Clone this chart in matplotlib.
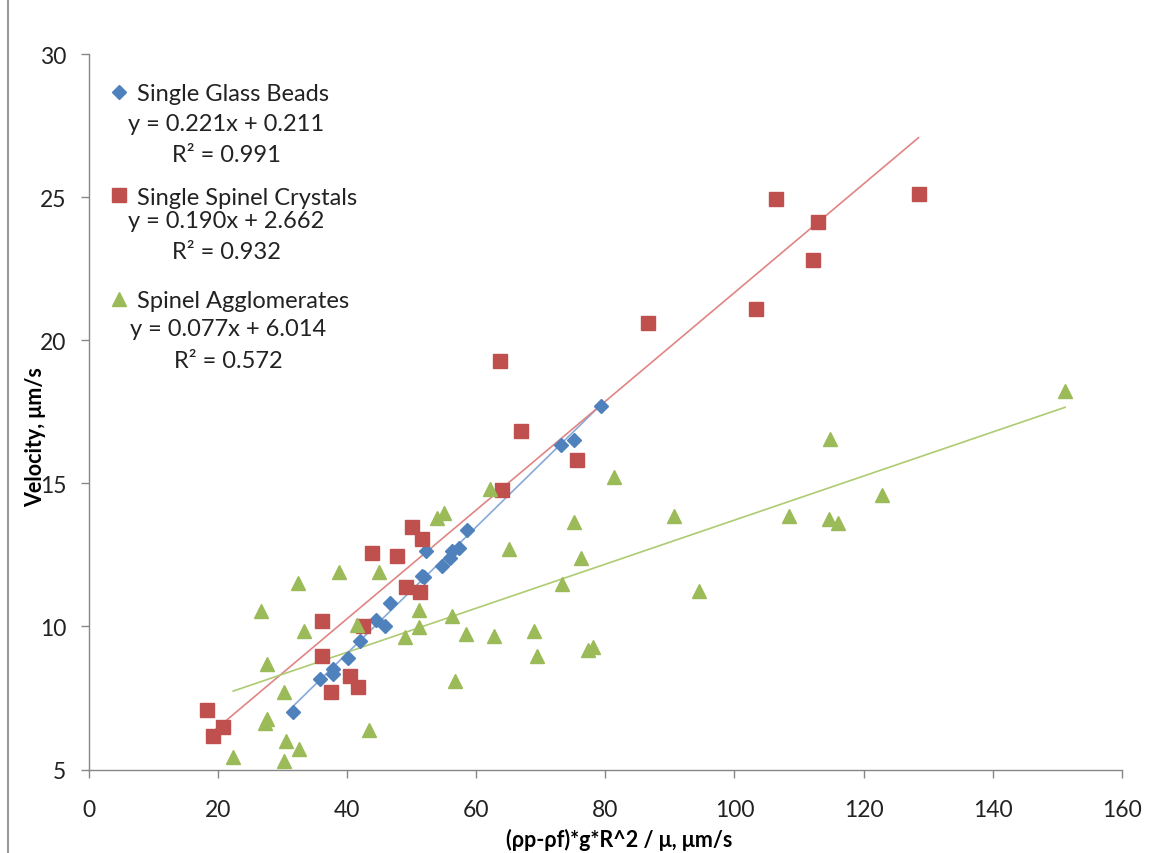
import numpy as np
import matplotlib
matplotlib.use('Agg')
import matplotlib.pyplot as plt
from matplotlib.lines import Line2D

plt.rcParams['font.family'] = ['Lato', 'DejaVu Sans']

# Single Glass Beads
beads_x = [31.7, 35.8, 37.9, 37.9, 40.2, 42.0, 44.5, 45.9, 46.7, 51.6,
           51.9, 52.2, 54.7, 55.9, 56.2, 57.4, 58.6, 73.1, 75.2, 79.4]
beads_y = [7.02, 8.16, 8.34, 8.51, 8.89, 9.48, 10.23, 10.02, 10.82, 11.77,
           11.72, 12.62, 12.10, 12.39, 12.65, 12.73, 13.37, 16.34, 16.51, 17.71]

# Single Spinel Crystals
cryst_x = [18.4, 20.8, 19.2, 36.2, 36.2, 37.6, 40.5, 41.7, 42.5, 43.9,
           47.7, 50.1, 51.7, 49.1, 51.3, 64.0, 63.7, 67.0, 75.6, 86.6,
           103.4, 106.5, 112.2, 112.9, 128.5]
cryst_y = [7.09, 6.47, 6.18, 10.20, 8.98, 7.72, 8.26, 7.87, 10.02, 12.56,
           12.47, 13.46, 13.05, 11.37, 11.21, 14.77, 19.28, 16.82, 15.81, 20.60,
           21.09, 24.92, 22.80, 24.12, 25.10]

# Spinel Agglomerates
aggl_x = [22.4, 26.7, 27.7, 27.4, 27.7, 30.3, 30.5, 30.3, 32.5, 32.6,
          33.3, 38.8, 41.5, 43.4, 45.0, 49.0, 51.2, 51.2, 54.0, 55.1,
          56.3, 56.8, 58.5, 62.2, 62.8, 65.1, 68.9, 69.5, 73.3, 75.2,
          76.3, 77.4, 78.1, 81.4, 90.7, 94.5, 108.4, 114.6, 114.8, 116.0,
          122.9, 151.2]
aggl_y = [5.43, 10.54, 8.69, 6.62, 6.75, 7.70, 6.01, 5.29, 11.51, 5.70,
          9.85, 11.91, 10.05, 6.38, 11.91, 9.62, 10.57, 9.97, 13.80, 13.95,
          10.37, 8.10, 9.73, 14.80, 9.65, 12.70, 9.85, 8.98, 11.48, 13.64,
          12.40, 9.19, 9.27, 15.21, 13.87, 11.25, 13.85, 13.77, 16.55, 13.60,
          14.60, 18.23]

# trendline coefficients (slope, intercept) and R^2 shown on chart
fits = [(0.221, 0.211, 0.991), (0.190, 2.662, 0.932), (0.077, 6.014, 0.572)]
names = ['Single Glass Beads', 'Single Spinel Crystals', 'Spinel Agglomerates']

colors = ['#4F81BD', '#C0504D', '#9BBB59']
line_colors = ['#86A9D9', '#E08583', '#AECB72']
markers = ['D', 's', '^']
msizes = [7.2, 10, 10.5]

W, H = 1150, 854
fig = plt.figure(figsize=(W / 100, H / 100), dpi=100)
ax = fig.add_axes([88.5 / W, (H - 770.5) / H, 1033.5 / W, 715.5 / H])

series = [(beads_x, beads_y), (cryst_x, cryst_y), (aggl_x, aggl_y)]
handles = []
for i, (xs, ys) in enumerate(series):
    xs = np.array(xs)
    ys = np.array(ys)
    k, b, r2 = fits[i]
    xl = np.array([xs.min(), xs.max()])
    ax.plot(xl, k * xl + b, color=line_colors[i], lw=1.2, zorder=2)
    h, = ax.plot(xs, ys, linestyle='none', marker=markers[i], ms=msizes[i],
                 color=colors[i], markeredgecolor=colors[i], zorder=3 + i)
    handles.append(h)

ax.set_xlim(0, 160)
ax.set_ylim(5, 30)
ax.set_xticks(np.arange(0, 161, 20))
ax.set_yticks(np.arange(5, 31, 5))

for s in ['top', 'right']:
    ax.spines[s].set_visible(False)
for s in ['left', 'bottom']:
    ax.spines[s].set_color('#868686')
    ax.spines[s].set_linewidth(1.0)
ax.tick_params(axis='both', direction='out', length=6, width=1.0,
               color='#868686', labelsize=16.5, labelcolor='#222222')
ax.tick_params(axis='y', pad=10)
ax.tick_params(axis='x', pad=15)

ax.set_xlabel('(ρp-ρf)*g*R^2 / μ, μm/s', fontsize=15.5, fontweight='bold')
ax.xaxis.set_label_coords((619 - 88.5) / 1033.5, -(840 - 770.5) / 715.5)
ax.xaxis.label.set_va('center')
ax.set_ylabel('Velocity, μm/s', fontsize=15.5, fontweight='bold')
ax.yaxis.set_label_coords(-(88.5 - 36) / 1033.5, (770.5 - 437.5) / 715.5)
ax.yaxis.label.set_va('center')

leg = ax.legend(handles, names, loc='upper left', frameon=False,
                bbox_to_anchor=((110 - 88.5) / 1033.5, (770.5 - 84) / 715.5),
                fontsize=17, labelspacing=3.5, handlelength=0.8,
                handletextpad=0.35, borderpad=0, borderaxespad=0)
for t in leg.get_texts():
    t.set_color('#222222')

# equation labels
eq_pos = [((128, 124.3), (171.7, 155)),
          ((128, 221), (171.7, 252.3)),
          ((130, 330), (173.7, 361.7))]
for i, (k, b, r2) in enumerate(fits):
    (ex, ey), (rx, ry) = eq_pos[i]
    ax.text((ex - 88.5) / 1033.5, (770.5 - ey) / 715.5,
            'y = %.3fx + %.3f' % (k, b), transform=ax.transAxes,
            fontsize=17, va='center', ha='left', color='#222222')
    ax.text((rx - 88.5) / 1033.5, (770.5 - ry) / 715.5,
            'R² = %.3f' % r2, transform=ax.transAxes,
            fontsize=17, va='center', ha='left', color='#222222')

# chart area border on the left
fig.add_artist(Line2D([8 / W, 8 / W], [0, 1], color='#9a9a9a', lw=1.5,
                      transform=fig.transFigure))

fig.savefig('out.png', dpi=100)
